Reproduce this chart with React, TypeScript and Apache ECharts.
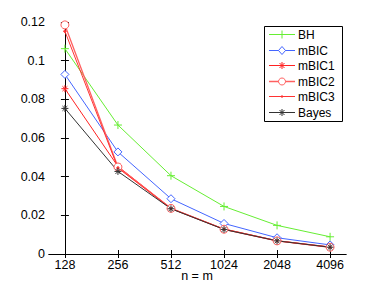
import React, { useEffect, useRef } from "react";
import * as echarts from "echarts";

const categories = ["128", "256", "512", "1024", "2048", "4096"];
const bh = [0.1062, 0.0667, 0.0405, 0.0246, 0.0148, 0.0089];
const mbic = [0.0929, 0.0528, 0.0286, 0.0158, 0.0084, 0.0047];
const mbic1 = [0.0855, 0.0453, 0.0236, 0.0129, 0.0069, 0.0036];
const mbic2 = [0.1185, 0.045, 0.0236, 0.0128, 0.0068, 0.0035];
const mbic3 = [0.1152, 0.0445, 0.0235, 0.0128, 0.0068, 0.0035];
const bayes = [0.0753, 0.0427, 0.0234, 0.0127, 0.0068, 0.0035];
const legendNames = ["BH", "mBIC", "mBIC1", "mBIC2", "mBIC3", "Bayes"];
const xAxisTitle = "n = m";

const PLUS = "path://M0,5L10,5M5,0L5,10";
const STAR = "path://M0,5L10,5M5,0L5,10M1.5,1.5L8.5,8.5M1.5,8.5L8.5,1.5";

const FONT = "Liberation Sans, Arial, sans-serif";

const C = {
  bh: "#66ee33",
  mbic: "#4466ff",
  mbic1: "#ff2222",
  mbic2: "#ff6060",
  mbic3: "#ff3333",
  bayes: "#333333",
};

function mk(name: string, vals: number[], color: string, symbol: string, size: number, filled: boolean, width = 1) {
  return {
    name,
    type: "line",
    data: vals.map((v, i) => [i, v]),
    symbol,
    symbolSize: size,
    showSymbol: true,
    lineStyle: { color, width },
    itemStyle: filled
      ? { color, borderColor: color, borderWidth: 1 }
      : { color: "#ffffff", borderColor: color, borderWidth: 1 },
    emphasis: { disabled: true },
    z: 3,
  };
}

function legendGraphics() {
  const x0 = 264, y0 = 26, w = 78, h = 95;
  const els: any[] = [
    { type: "rect", shape: { x: x0 + 0.5, y: y0 + 0.5, width: w, height: h }, style: { fill: "#fff", stroke: "#000", lineWidth: 1 }, z: 10 },
  ];
  const colors = [C.bh, C.mbic, C.mbic1, C.mbic2, C.mbic3, C.bayes];
  legendNames.forEach((name, i) => {
    const y = Math.round(34 + 15.5 * i) + 0.5;
    const col = colors[i];
    const cx = 282;
    els.push({ type: "line", shape: { x1: 269, y1: y, x2: 295, y2: y }, style: { stroke: col, lineWidth: i === 3 ? 1.5 : 1 }, z: 11 });
    if (i === 0) {
      els.push({ type: "line", shape: { x1: cx - 4, y1: y, x2: cx + 4, y2: y }, style: { stroke: col, lineWidth: 1 }, z: 12 });
      els.push({ type: "line", shape: { x1: cx, y1: y - 4, x2: cx, y2: y + 4 }, style: { stroke: col, lineWidth: 1 }, z: 12 });
    } else if (i === 1) {
      els.push({ type: "polygon", shape: { points: [[cx, y - 4], [cx + 3.5, y], [cx, y + 4], [cx - 3.5, y]] }, style: { fill: "#fff", stroke: col, lineWidth: 1 }, z: 12 });
    } else if (i === 2 || i === 5) {
      const r = 3.5, d = 2.5;
      [[cx - r, y, cx + r, y], [cx, y - r, cx, y + r], [cx - d, y - d, cx + d, y + d], [cx - d, y + d, cx + d, y - d]].forEach((s) => {
        els.push({ type: "line", shape: { x1: s[0], y1: s[1], x2: s[2], y2: s[3] }, style: { stroke: col, lineWidth: 1 }, z: 12 });
      });
    } else if (i === 3) {
      els.push({ type: "circle", shape: { cx, cy: y, r: 3.5 }, style: { fill: "#fff", stroke: col, lineWidth: 1 }, z: 12 });
    } else if (i === 4) {
      els.push({ type: "circle", shape: { cx, cy: y, r: 1.2 }, style: { fill: col }, z: 12 });
    }
    els.push({
      type: "text",
      x: 298,
      y,
      style: { text: name, fill: "#000", font: `12px ${FONT}`, verticalAlign: "middle", align: "left" },
      z: 12,
    });
  });
  els.push({
    type: "text",
    x: 197,
    y: 276,
    style: { text: xAxisTitle, fill: "#000", font: `12.5px ${FONT}`, verticalAlign: "middle", align: "center" },
    z: 12,
  });
  return els;
}

export default function App() {
  const ref = useRef<HTMLDivElement>(null);
  useEffect(() => {
    const chart = echarts.init(ref.current!, null, { renderer: "svg" });
    const idx = categories.map((_, i) => i);
    const xBase = {
      type: "value",
      min: -0.3,
      max: 5.3,
      splitLine: { show: false },
      axisLine: { show: true, lineStyle: { color: "#000", width: 1 } },
    };
    const yBase = {
      type: "value",
      min: 0,
      max: 0.12,
      interval: 0.02,
      splitLine: { show: false },
      axisLine: { show: true, lineStyle: { color: "#000", width: 1 } },
    };
    chart.setOption({
      animation: false,
      backgroundColor: "#ffffff",
      grid: { left: 49, right: 36, top: 22, bottom: 33, containLabel: false, outerBoundsMode: "none" },
      xAxis: [
        {
          ...xBase,
          position: "bottom",
          axisTick: { show: true, inside: true, length: 4, customValues: idx, lineStyle: { color: "#000" } },
          axisLabel: {
            show: true,
            customValues: idx,
            formatter: (v: number) => categories[Math.round(v)] ?? "",
            color: "#000",
            fontSize: 12.5,
            fontFamily: FONT,
            margin: 4,
          },
        },
        {
          ...xBase,
          position: "top",
          axisTick: { show: true, inside: true, length: 4, customValues: idx, lineStyle: { color: "#000" } },
          axisLabel: { show: false },
        },
      ],
      yAxis: [
        {
          ...yBase,
          position: "left",
          axisTick: { show: true, inside: true, length: 4, lineStyle: { color: "#000" } },
          axisLabel: {
            color: "#000",
            fontSize: 12.5,
            fontFamily: FONT,
            margin: 4,
            formatter: (v: number) => String(+v.toFixed(2)),
          },
        },
        {
          ...yBase,
          position: "right",
          axisTick: { show: true, inside: true, length: 4, lineStyle: { color: "#000" } },
          axisLabel: { show: false },
        },
      ],
      graphic: legendGraphics(),
      series: [
        mk(legendNames[0], bh, C.bh, PLUS, 8, true),
        mk(legendNames[1], mbic, C.mbic, "diamond", 8, false),
        mk(legendNames[2], mbic1, C.mbic1, STAR, 7, true),
        mk(legendNames[3], mbic2, C.mbic2, "circle", 8, false, 1.3),
        mk(legendNames[4], mbic3, C.mbic3, "circle", 2.5, true),
        mk(legendNames[5], bayes, C.bayes, STAR, 7, true),
      ],
    });
    return () => chart.dispose();
  }, []);
  return <div ref={ref} style={{ width: 382, height: 287, position: "absolute", left: 0, top: 0 }} />;
}
